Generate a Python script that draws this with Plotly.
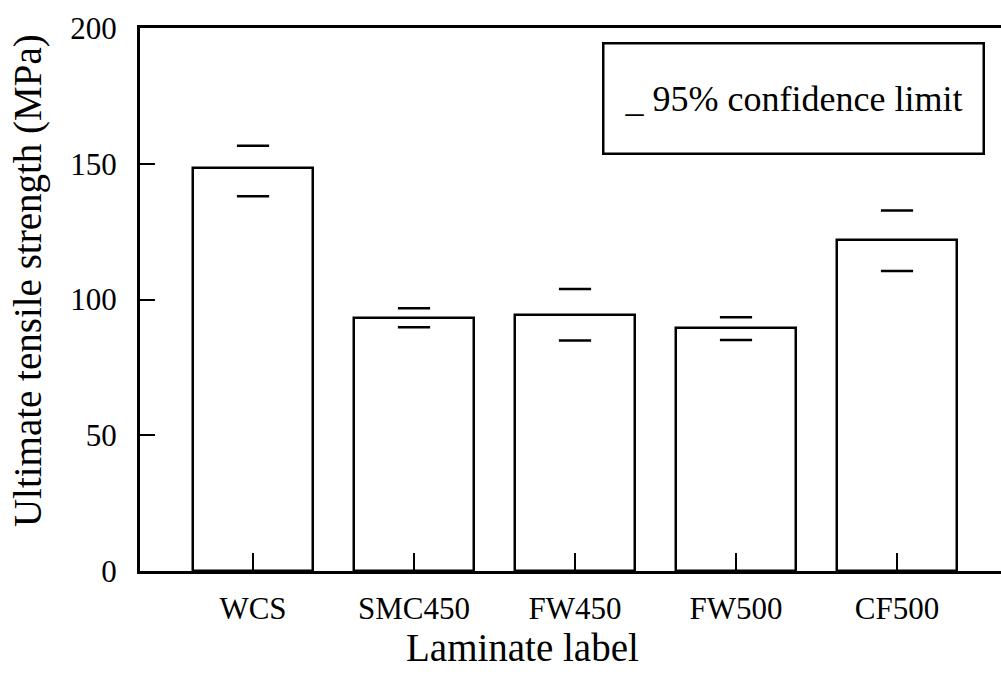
import plotly.graph_objects as go

categories = ["WCS", "SMC450", "FW450", "FW500", "CF500"]
strength = [148.5, 93.1, 94.3, 89.4, 122.0]
ci_upper = [156.6, 96.8, 103.9, 93.5, 132.8]
ci_lower = [138.0, 89.8, 84.9, 85.1, 110.5]
y_ticks = [0, 50, 100, 150, 200]

FONT = "Liberation Serif"
x_idx = list(range(len(categories)))

fig = go.Figure()
fig.add_trace(go.Bar(
    x=x_idx, y=strength, width=0.75,
    marker=dict(color="white", line=dict(color="black", width=2.5)),
    showlegend=False, hoverinfo="skip",
))
fig.add_trace(go.Scatter(
    x=x_idx + x_idx, y=ci_upper + ci_lower, mode="markers",
    marker=dict(symbol="line-ew", size=23, line=dict(color="black", width=2.5)),
    showlegend=False, hoverinfo="skip",
))

fig.update_layout(
    width=1001, height=679,
    margin=dict(l=140, r=0, t=28, b=108),
    paper_bgcolor="white", plot_bgcolor="white",
    font=dict(family=FONT, color="black", size=31),
    bargap=0,
)
fig.update_xaxes(
    range=[-0.702, 4.646],
    tickmode="array", tickvals=x_idx, ticktext=categories,
    ticks="inside", ticklen=18, tickwidth=2, tickcolor="black",
    showline=True, linecolor="black", linewidth=3, mirror=True,
    showgrid=False, zeroline=False,
    tickfont=dict(family=FONT, size=31),
    ticklabelstandoff=8,
)
fig.update_yaxes(
    range=[0, 200], tickvals=y_ticks,
    ticks="inside", ticklen=15, tickwidth=2, tickcolor="black",
    showline=True, linecolor="black", linewidth=3,
    showgrid=False, zeroline=False,
    tickfont=dict(family=FONT, size=31),
    ticklabelstandoff=14,
)

fig.add_annotation(
    text="Ultimate tensile strength (MPa)", textangle=-90,
    xref="paper", yref="paper", x=-0.130, y=0.534,
    xanchor="center", yanchor="middle", showarrow=False,
    font=dict(family=FONT, size=39),
)
fig.add_annotation(
    text="Laminate label",
    xref="paper", yref="paper", x=0.4437, y=-0.140,
    xanchor="center", yanchor="middle", showarrow=False,
    font=dict(family=FONT, size=39),
)
fig.add_annotation(
    text="_ 95% confidence limit",
    xref="paper", yref="paper", x=0.759, y=0.871,
    xanchor="center", yanchor="middle", showarrow=False,
    width=378, height=108, borderpad=0,
    bordercolor="black", borderwidth=2.5, bgcolor="white",
    font=dict(family=FONT, size=36),
)

fig.write_html("out.html")
